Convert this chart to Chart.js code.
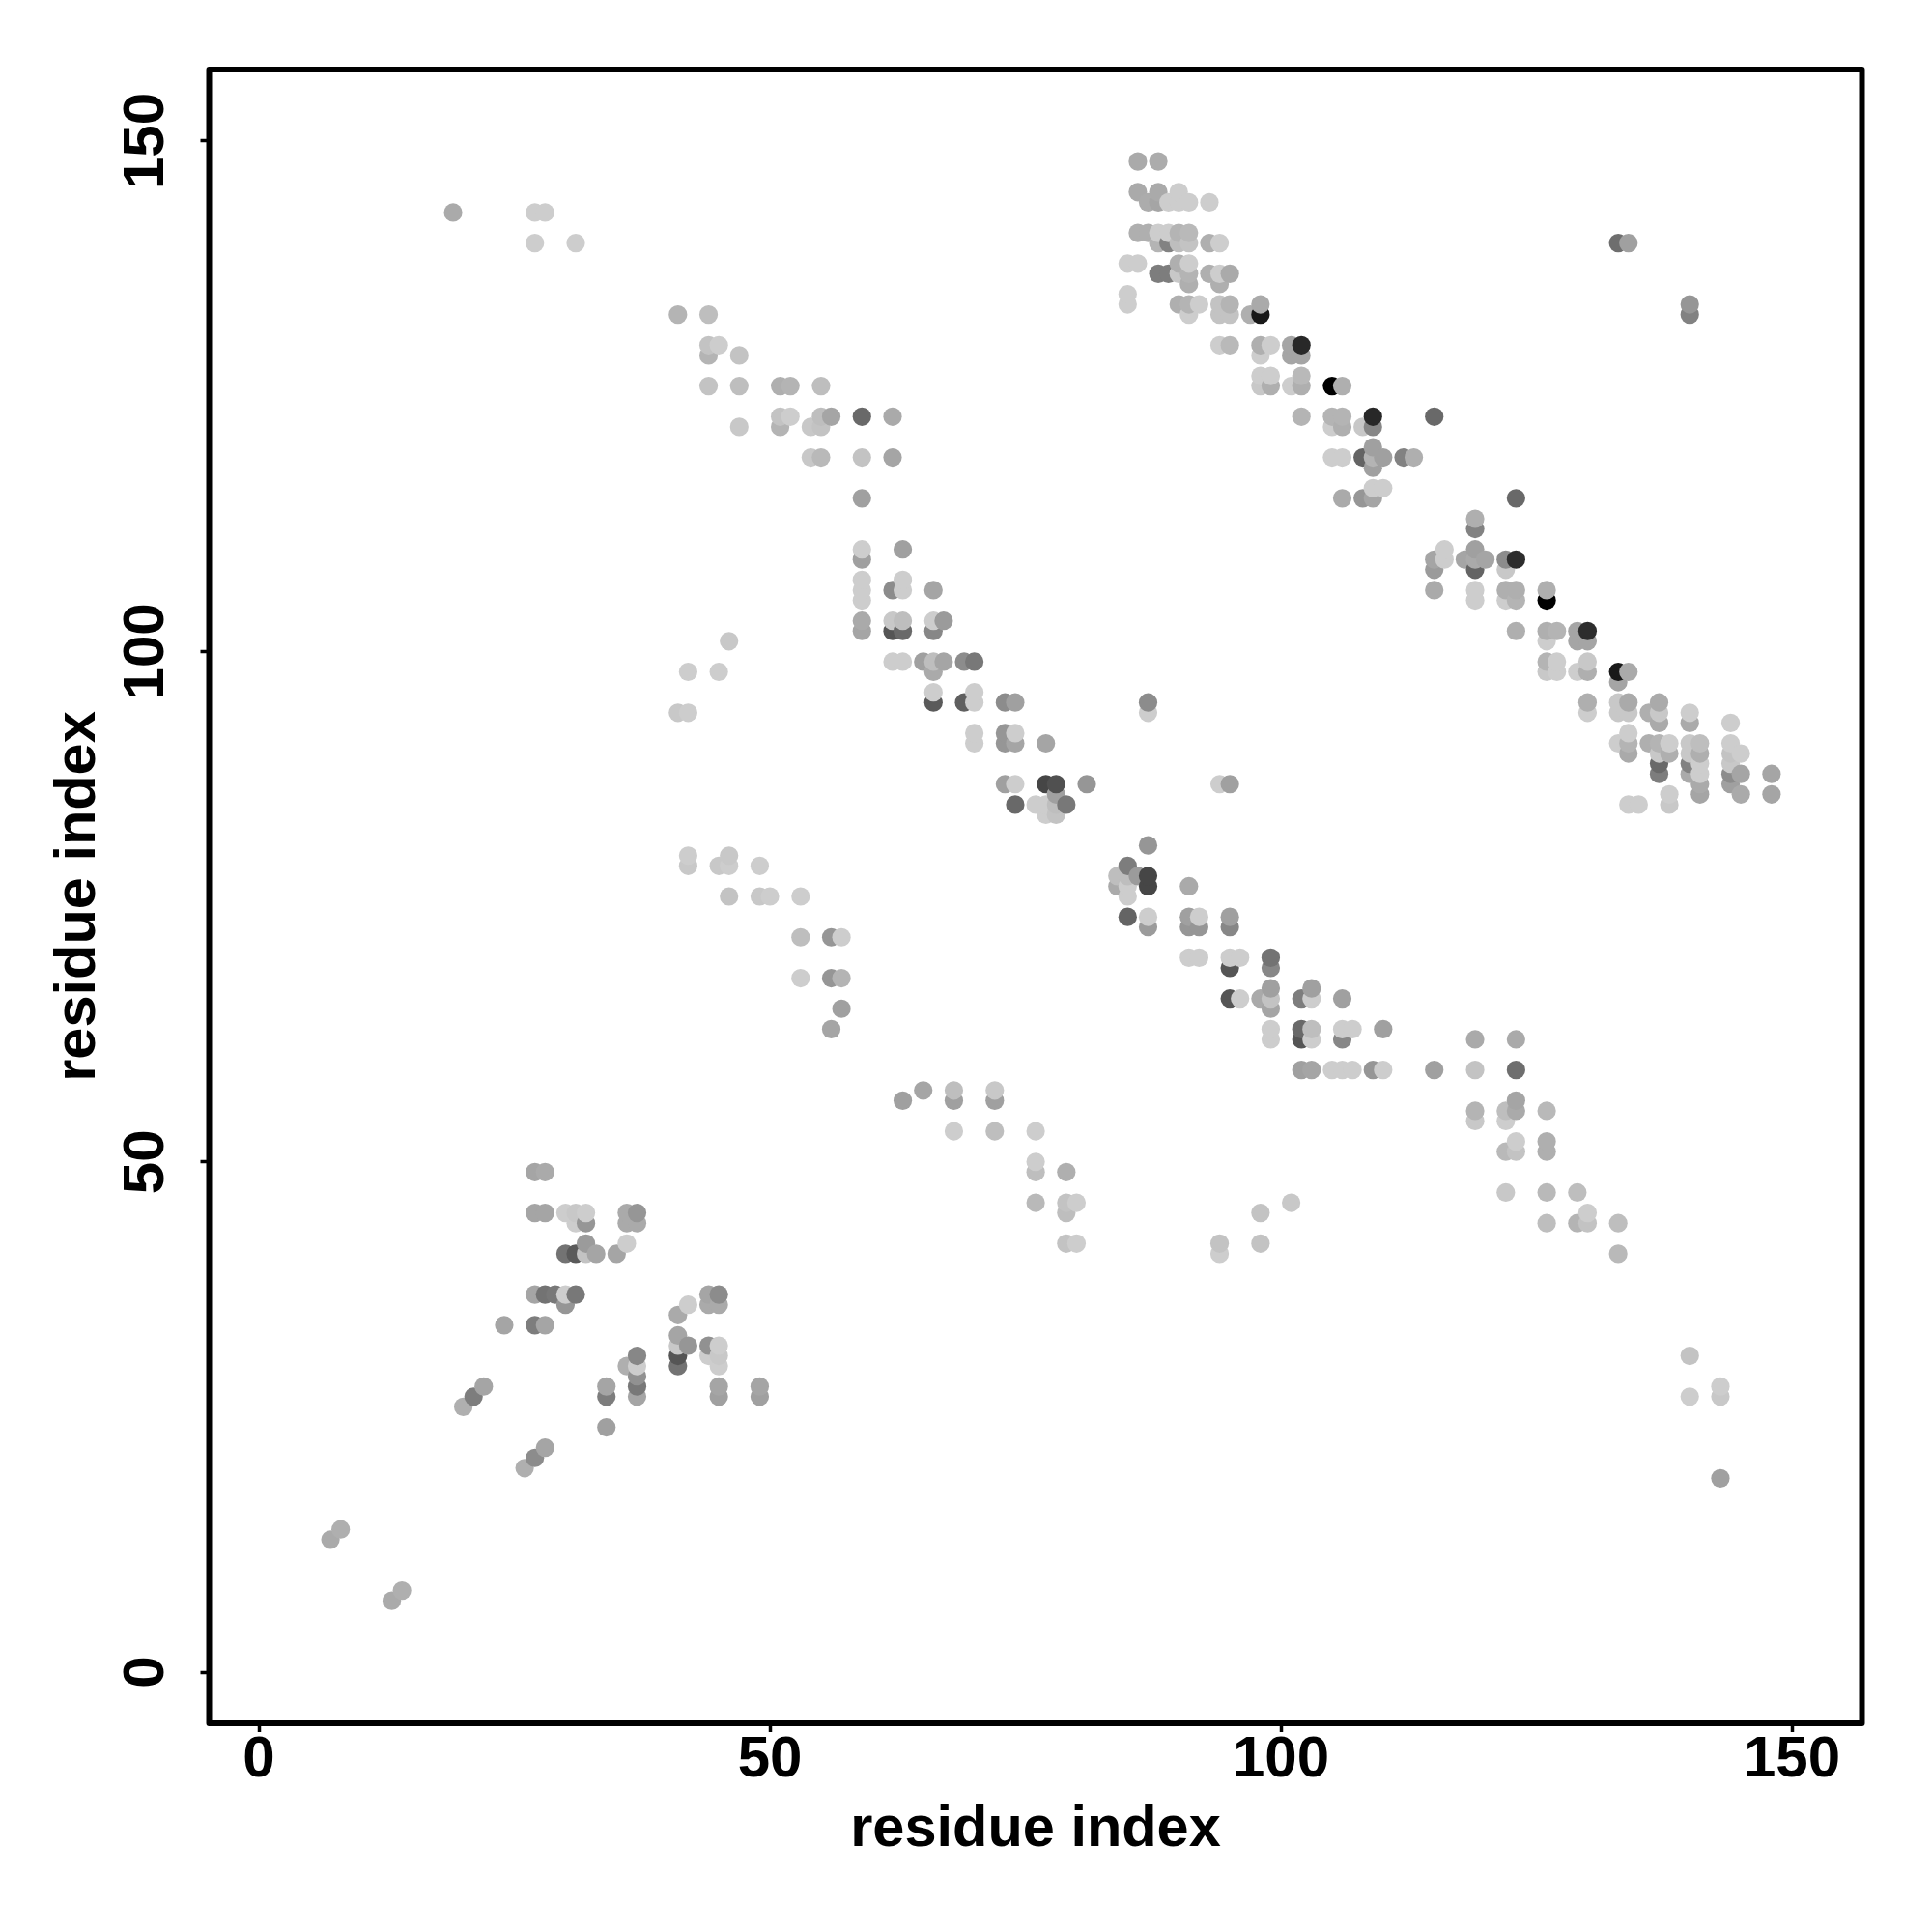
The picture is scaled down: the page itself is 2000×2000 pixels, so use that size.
<!DOCTYPE html>
<html>
<head>
<meta charset="utf-8">
<title>residue contacts</title>
<style>
  html, body { margin: 0; padding: 0; background: #fff; }
  canvas { display: block; }
</style>
<script src="https://cdn.jsdelivr.net/npm/chart.js@4/dist/chart.umd.min.js"></script>
</head>
<body>
<canvas id="chart" width="2000" height="2000"></canvas>
<script>
const xTickValues = [0, 50, 100, 150];
const yTickValues = [0, 50, 100, 150];

// one entry per residue row: y index, x indices in that row, contact score (0-255, darker = higher)
const rowY = [
  148, 145, 144, 143, 141, 140, 138, 137, 136, 135, 134, 133, 130, 129, 127, 126,
  123, 122, 120, 119, 118, 116, 115, 113, 112, 110, 109, 108, 107, 106, 105, 103,
  102, 101, 99, 98, 97, 96, 95, 94, 93, 92, 91, 90, 89, 88, 87, 86,
  85, 84, 81, 80, 79, 78, 77, 76, 74, 73, 72, 70, 69, 68, 67, 66,
  65, 63, 62, 59, 57, 56, 55, 54, 53, 52, 51, 50, 49, 47, 46, 45,
  44, 42, 41, 37, 36, 35, 34, 33, 32, 31, 30, 29, 28, 27, 26, 24,
  22, 21, 20, 19, 14, 13, 8, 7,
];
const rowX = [
  [86, 88], [86, 88, 90], [87, 88, 89, 90, 91, 93], [19, 27, 28],
  [86, 87, 88, 89, 90, 91], [27, 31, 88, 89, 90, 91, 93, 94, 133, 134], [85, 86, 90, 91],
  [88, 89, 90, 91, 93, 94, 95], [91, 94], [85], [85, 90, 91, 92, 94, 95, 98, 140],
  [41, 44, 91, 94, 95, 97, 98, 140], [44, 45, 94, 95, 98, 99, 101, 102], [44, 47, 98, 101, 102],
  [98, 99, 102], [44, 47, 51, 52, 55, 98, 99, 101, 102, 105, 106],
  [51, 52, 55, 56, 59, 62, 102, 105, 106, 109, 115], [47, 51, 54, 55, 105, 106, 108, 109], [109],
  [54, 55, 59, 62, 105, 106, 108, 109, 110, 112, 113], [109], [109, 110], [59, 106, 108, 109, 123],
  [119], [119], [59, 63, 116, 119], [59, 115, 116, 118, 119, 120, 122, 123], [115, 119, 122],
  [59, 63], [59, 62, 63, 66, 115, 119, 122, 123, 126], [59, 119, 122, 123, 126], [59, 62, 63, 66, 67],
  [59, 62, 63, 66, 123, 126, 127, 129, 130], [46, 126, 129, 130],
  [62, 63, 65, 66, 67, 69, 70, 126, 127, 130], [42, 45, 66, 126, 127, 129, 130, 133, 134], [133],
  [66, 70], [66, 69, 70, 73, 74, 87, 130, 133, 134, 137], [41, 42, 87, 130, 133, 134, 136, 137, 140],
  [137, 140, 144], [70, 73, 74, 134], [70, 73, 74, 77, 133, 134, 136, 137, 138, 140, 141, 144],
  [134, 137, 138, 140, 141, 144, 145], [137, 140, 141, 144], [137, 140, 141, 144, 145, 148],
  [73, 74, 77, 78, 81, 94, 95, 141, 144], [78, 138, 141, 145, 148],
  [74, 76, 77, 78, 79, 134, 135, 138], [77, 78], [87], [42, 46], [42, 45, 46, 49, 85],
  [84, 85, 86, 87], [84, 85, 87, 91], [46, 49, 50, 53, 85], [85, 87, 91, 92, 95], [87, 91, 92, 95],
  [53, 56, 57], [91, 92, 95, 96, 99], [95, 99], [53, 56, 57], [99, 103],
  [95, 96, 98, 99, 102, 103, 106], [57, 99], [56, 99, 102, 103, 106, 107, 110],
  [99, 102, 103, 106, 119, 123], [102, 103, 105, 106, 107, 109, 110, 115, 119, 123], [65, 68, 72],
  [63, 68, 72, 123], [119, 122, 123, 126], [119, 122], [68, 72, 76], [123, 126], [122, 123, 126],
  [76], [27, 28, 76, 79], [122, 126, 129], [76, 79, 80, 101],
  [27, 28, 30, 31, 32, 36, 37, 79, 98, 130], [31, 32, 36, 37, 126, 129, 130, 133],
  [32, 36, 79, 80, 94, 98], [30, 31, 32, 33, 35, 94, 133], [27, 28, 29, 30, 31, 44, 45],
  [30, 42, 44, 45], [41], [24, 27, 28], [41], [41, 42, 44, 45], [37, 41, 44, 45, 140],
  [36, 37, 41, 45], [37], [22, 34, 37, 45, 49, 143], [21, 34, 37, 45, 49, 140, 143], [20], [34],
  [28], [27], [26], [143], [8], [7], [14], [13],
];
const rowScore = [
  [85, 83], [85, 85, 50], [83, 90, 50, 50, 50, 50], [85, 50, 50],
  [80, 80, 50, 50, 75, 70], [50, 50, 75, 125, 65, 60, 80, 50, 145, 95], [50, 50, 80, 50],
  [130, 130, 55, 75, 80, 50, 85], [80, 80], [50], [50, 80, 75, 50, 60, 75, 85, 105],
  [75, 65, 50, 60, 60, 80, 230, 125], [60, 50, 50, 70, 80, 50, 90, 215], [75, 60, 50, 90, 90],
  [50, 50, 70], [60, 65, 80, 75, 65, 55, 80, 50, 80, 255, 80],
  [60, 50, 65, 90, 150, 85, 75, 75, 75, 215, 150], [55, 75, 55, 60, 50, 80, 55, 120], [95],
  [55, 70, 60, 90, 50, 50, 155, 75, 95, 125, 80], [95], [50, 50], [95, 85, 105, 90, 150],
  [80], [125], [50, 95, 50, 95], [95, 90, 50, 90, 85, 90, 115, 210], [100, 155, 55],
  [50, 50], [50, 115, 50, 90, 85, 50, 80, 80, 80], [50, 50, 50, 75, 255], [85, 55, 65, 50, 100],
  [90, 170, 150, 120, 80, 80, 75, 90, 210], [55, 50, 90, 90],
  [50, 50, 95, 65, 90, 115, 135, 75, 50, 55], [50, 50, 85, 55, 50, 50, 80, 230, 85], [90],
  [50, 50], [165, 160, 50, 115, 95, 115, 80, 55, 85, 85], [55, 50, 50, 50, 55, 55, 80, 55, 50],
  [85, 85, 50], [50, 105, 50, 50], [50, 105, 90, 90, 50, 75, 80, 75, 50, 55, 65, 50],
  [85, 55, 80, 55, 80, 60, 50], [150, 125, 50, 55], [130, 85, 50, 115, 90, 90],
  [95, 50, 185, 175, 105, 50, 95, 85, 95], [95, 50, 90, 85, 90],
  [150, 50, 50, 65, 135, 50, 50, 55], [50, 60], [105], [50, 55], [55, 55, 50, 50, 130],
  [65, 65, 100, 185], [85, 50, 185, 85], [60, 55, 50, 50, 50], [155, 50, 95, 50, 95], [100, 105, 105, 120],
  [65, 105, 50], [50, 50, 50, 50, 140], [170, 120], [50, 105, 75], [95, 95],
  [170, 50, 85, 60, 130, 50, 95], [95, 90], [90, 50, 150, 65, 50, 50, 95],
  [50, 170, 50, 120, 85, 85], [95, 90, 50, 50, 50, 105, 50, 95, 60, 145], [90, 65, 55],
  [95, 95, 95, 90], [75, 65, 85, 70], [55, 50], [50, 65, 50], [50, 80], [70, 60, 80],
  [50], [90, 85, 65, 80], [55, 70, 65], [70, 60, 50, 55],
  [90, 90, 50, 55, 50, 85, 105, 65, 60, 50], [50, 105, 85, 85, 65, 75, 60, 65],
  [100, 50, 60, 50, 60, 60], [140, 165, 60, 90, 90, 50, 70], [90, 140, 135, 50, 135, 90, 115],
  [105, 50, 85, 85], [85], [90, 130, 90], [90], [55, 105, 110, 50], [120, 170, 50, 55, 60],
  [80, 50, 140, 50], [110], [90, 90, 135, 90, 90, 50], [130, 130, 90, 95, 95, 50, 55], [80], [95],
  [90], [115], [80], [95], [80], [85], [80], [85],
];

const xMin = -4.87;
const xMax = 156.85;
const yMin = -5;
const yMax = 157;

// R draws column by column, lower rows first, and the overlaps depend on it
const contacts = [];
rowY.forEach((y, r) => {
  rowX[r].forEach((x, i) => contacts.push({ x: x, y: y, score: rowScore[r][i] }));
});
contacts.sort((a, b) => a.x - b.x || a.y - b.y);

const shadeOf = (score) => {
  const g = 255 - score;
  return "rgb(" + g + "," + g + "," + g + ")";
};

const fontFamily = '"Liberation Sans", Arial, sans-serif';

const plotBox = {
  id: "plotBox",
  afterDraw(chart) {
    const { ctx, chartArea: a } = chart;
    ctx.save();
    ctx.strokeStyle = "#000";
    ctx.lineWidth = 6;
    ctx.lineJoin = "round";
    ctx.strokeRect(a.left, a.top, a.right - a.left, a.bottom - a.top);
    ctx.restore();
  },
};

new Chart(document.getElementById("chart"), {
  type: "scatter",
  plugins: [plotBox],
  data: {
    datasets: [
      {
        label: "contacts",
        data: contacts,
        pointRadius: 9.6,
        pointHoverRadius: 9.6,
        pointBorderWidth: 0,
        pointBackgroundColor: contacts.map((c) => shadeOf(c.score)),
      },
    ],
  },
  options: {
    responsive: false,
    animation: false,
    layout: { padding: { top: 72, right: 72.5, left: 0, bottom: 0 } },
    plugins: { legend: { display: false }, tooltip: { enabled: false } },
    scales: {
      x: {
        type: "linear",
        min: xMin,
        max: xMax,
        afterBuildTicks: (scale) => {
          scale.ticks = xTickValues.map((v) => ({ value: v }));
        },
        afterFit: (scale) => {
          scale.height = 216;
        },
        border: { display: false },
        grid: { drawOnChartArea: false, drawTicks: true, tickLength: 9, tickWidth: 3.5, tickColor: "#000" },
        ticks: {
          color: "#000",
          padding: -7,
          maxRotation: 0,
          autoSkip: false,
          font: { family: fontFamily, size: 60, weight: "bold" },
          callback: (v) => String(v),
        },
        title: {
          display: true,
          text: "residue index",
          color: "#000",
          padding: { top: 0, bottom: 70 },
          font: { family: fontFamily, size: 59.5, weight: "bold" },
        },
      },
      y: {
        type: "linear",
        min: yMin,
        max: yMax,
        afterBuildTicks: (scale) => {
          scale.ticks = yTickValues.map((v) => ({ value: v }));
        },
        afterFit: (scale) => {
          scale.width = 216.5;
        },
        border: { display: false },
        grid: { drawOnChartArea: false, drawTicks: true, tickLength: 9, tickWidth: 3.5, tickColor: "#000" },
        ticks: {
          color: "#000",
          padding: 5,
          minRotation: 90,
          maxRotation: 90,
          crossAlign: "center",
          autoSkip: false,
          font: { family: fontFamily, size: 60, weight: "bold" },
          callback: (v) => String(v),
        },
        title: {
          display: true,
          text: "residue index",
          color: "#000",
          padding: { top: 46, bottom: 0 },
          font: { family: fontFamily, size: 59.5, weight: "bold" },
        },
      },
    },
  },
});
</script>
</body>
</html>
